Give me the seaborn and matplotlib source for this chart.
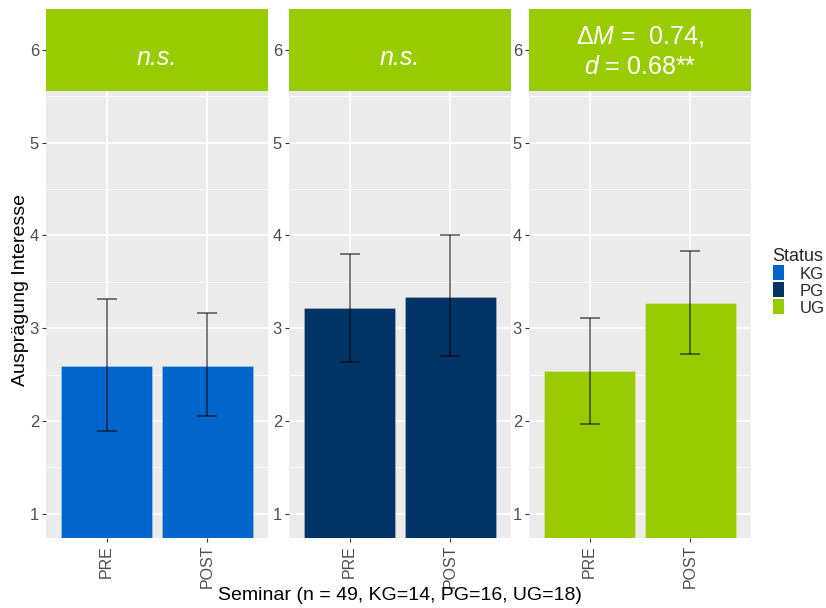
import pandas as pd
import numpy as np
import matplotlib
matplotlib.use("Agg")
import matplotlib.pyplot as plt
from matplotlib.patches import Rectangle, Patch
import seaborn as sns

# Values
groups = ["KG", "PG", "UG"]
times = ["PRE", "POST"]
kg_mean = [2.59, 2.59]
kg_lo = [1.89, 2.05]
kg_hi = [3.31, 3.16]
pg_mean = [3.22, 3.34]
pg_lo = [2.64, 2.70]
pg_hi = [3.80, 4.00]
ug_mean = [2.535, 3.27]
ug_lo = [1.965, 2.72]
ug_hi = [3.11, 3.83]
strip_labels = ["n.s.", "n.s.", None]
colors = {"KG": "#0066CC", "PG": "#003366", "UG": "#99CC00"}

df = pd.DataFrame({
    "Status": np.repeat(groups, 2),
    "Zeit": times * 3,
    "Mittel": kg_mean + pg_mean + ug_mean,
    "Unten": kg_lo + pg_lo + ug_lo,
    "Oben": kg_hi + pg_hi + ug_hi,
})

sns.set_style("darkgrid", {"axes.facecolor": "#EBEBEB", "grid.color": "white"})
plt.rcParams['font.family'] = ['Liberation Sans', 'DejaVu Sans']
plt.rcParams['mathtext.fontset'] = 'custom'
plt.rcParams['mathtext.rm'] = 'Liberation Sans'
plt.rcParams['mathtext.it'] = 'Liberation Sans:italic'

fig = plt.figure(figsize=(8.26, 6.08), dpi=100)
lefts = [46 / 826, 289 / 826, 529 / 826]
y0, y1 = 0.74, 6.44
strip_bottom = (5.56 - y0) / (y1 - y0)

for i, g in enumerate(groups):
    ax = fig.add_axes([lefts[i], 1 - 538 / 608, 222 / 826, 529 / 608])
    sub = df[df["Status"] == g]
    sns.barplot(data=sub, x="Zeit", y="Mittel", order=times, color=colors[g],
                saturation=1, width=0.9, errorbar=None, ax=ax,
                edgecolor=(1, 1, 1, 0.25), linewidth=0.6, zorder=2)
    m = sub["Mittel"].to_numpy()
    err = [m - sub["Unten"].to_numpy(), sub["Oben"].to_numpy() - m]
    ax.errorbar(x=[0, 1], y=m, yerr=err, fmt="none", ecolor="black", alpha=0.6,
                elinewidth=1.2, capsize=7, capthick=1.2, zorder=3)

    ax.set_xlim(-0.6, 1.6)
    ax.set_ylim(y0, y1)
    ax.set_yticks([1, 2, 3, 4, 5, 6])
    ax.set_yticks([1.5, 2.5, 3.5, 4.5, 5.5], minor=True)
    ax.grid(which="major", color="white", linewidth=1.2)
    ax.grid(which="minor", axis="y", color="white", linewidth=0.6)
    ax.set_axisbelow(True)
    for s in ax.spines.values():
        s.set_visible(False)
    ax.tick_params(axis="y", which="major", left=True, length=3, width=0.8,
                   color="#333333", labelsize=12, labelcolor="#4D4D4D", pad=2)
    ax.tick_params(axis="y", which="minor", left=False)
    ax.tick_params(axis="x", bottom=True, length=3, width=0.8, color="#333333",
                   labelsize=11.5, labelcolor="#4D4D4D", labelrotation=90, pad=2)
    ax.set_xlabel("")
    ax.set_ylabel("")

    ax.add_patch(Rectangle((0, strip_bottom), 1, 1 - strip_bottom, transform=ax.transAxes,
                           facecolor="#99CC00", edgecolor="none", zorder=4))
    if strip_labels[i] is not None:
        ax.text(0.5, 0.908, strip_labels[i], transform=ax.transAxes, ha="center", va="center",
                color="white", fontsize=18, style="italic", zorder=5)
    else:
        ax.text(0.5, 0.948, "Δ$M$ =  0.74,", transform=ax.transAxes, ha="center",
                va="center", color="white", fontsize=18, zorder=5)
        ax.text(0.5, 0.89, "$d$ = 0.68**", transform=ax.transAxes, ha="center",
                va="center", color="white", fontsize=18, zorder=5)

fig.text(21 / 826, 1 - 290 / 608, "Ausprägung Interesse", rotation=90, ha="center",
         va="center", fontsize=14, color="black")
fig.text(400 / 826, 1 - 595 / 608, "Seminar (n = 49, KG=14, PG=16, UG=18)", ha="center",
         va="center", fontsize=14, color="black")

handles = [Patch(facecolor=colors[g], edgecolor="none") for g in groups]
leg = fig.legend(handles, groups, title="Status", loc="upper left",
                 bbox_to_anchor=(766 / 826, 1 - 241 / 608), frameon=False, fontsize=12,
                 title_fontsize=13, handlelength=0.7, handleheight=1.0,
                 labelspacing=0.05, handletextpad=0.9, borderaxespad=0)
leg._legend_box.align = "left"

fig.savefig("out.png", dpi=100)
